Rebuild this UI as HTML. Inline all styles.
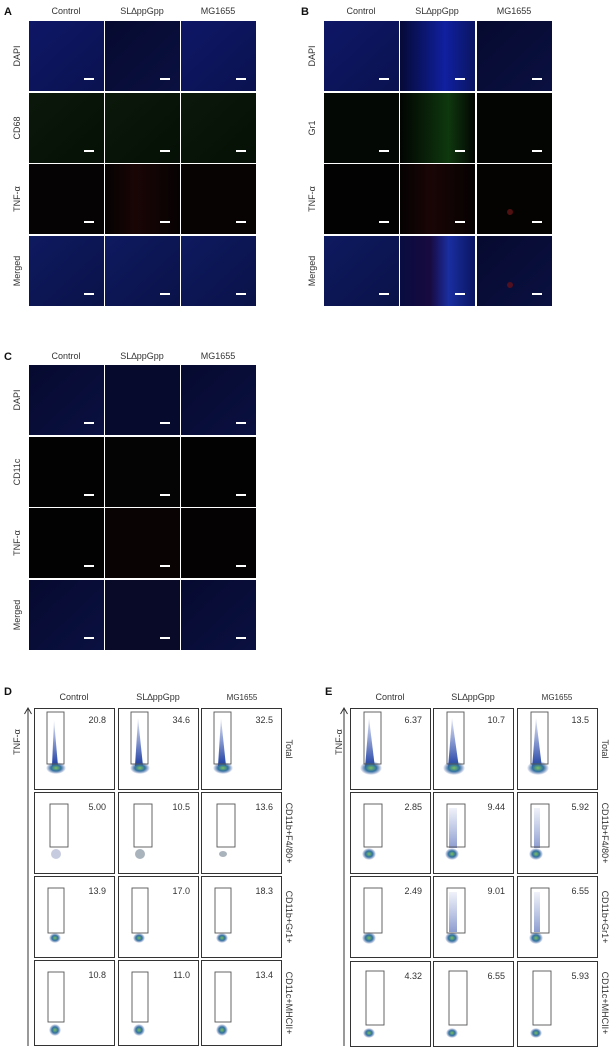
<!DOCTYPE html>
<html><head><meta charset="utf-8"><style>
html,body{margin:0;padding:0;background:#fff}
svg{display:block}
text{font-family:"Liberation Sans",Arial,sans-serif;fill:#333;font-size:9px}
.h{text-anchor:middle}
.L{font-weight:bold;font-size:11px;fill:#111}
.n{font-size:9px;text-anchor:end}
.gb{fill:none;stroke:#333;stroke-width:1}
.gt{fill:none;stroke:#555;stroke-width:0.9}
</style></head><body>
<svg width="612" height="1049" viewBox="0 0 612 1049" xmlns="http://www.w3.org/2000/svg">
<defs>
<linearGradient id="dapi" x1="0" y1="0" x2="1" y2="1"><stop offset="0" stop-color="#0e1766"/><stop offset="1" stop-color="#0a1250"/></linearGradient>
<linearGradient id="dapid" x1="0" y1="0" x2="1" y2="1"><stop offset="0" stop-color="#060a30"/><stop offset="1" stop-color="#0a1040"/></linearGradient>
<linearGradient id="dapib" x1="0" y1="0" x2="1" y2="0"><stop offset="0" stop-color="#060a35"/><stop offset="0.6" stop-color="#1020a0"/><stop offset="1" stop-color="#0a1560"/></linearGradient>
<linearGradient id="grn" x1="0" y1="0" x2="1" y2="1"><stop offset="0" stop-color="#0a180a"/><stop offset="1" stop-color="#061006"/></linearGradient>
<linearGradient id="grnb" x1="0" y1="0" x2="1" y2="0"><stop offset="0" stop-color="#020402"/><stop offset="0.65" stop-color="#0e380e"/><stop offset="1" stop-color="#020402"/></linearGradient>
<linearGradient id="red" x1="0" y1="0" x2="1" y2="0"><stop offset="0" stop-color="#050202"/><stop offset="0.4" stop-color="#1a0505"/><stop offset="1" stop-color="#060202"/></linearGradient>
<linearGradient id="mrg" x1="0" y1="0" x2="1" y2="1"><stop offset="0" stop-color="#0e1a60"/><stop offset="1" stop-color="#0a1248"/></linearGradient>
<linearGradient id="mrgb" x1="0" y1="0" x2="1" y2="0"><stop offset="0" stop-color="#080c40"/><stop offset="0.4" stop-color="#180a40"/><stop offset="0.65" stop-color="#1a2ea0"/><stop offset="1" stop-color="#0a1560"/></linearGradient>
<radialGradient id="blob"><stop offset="0" stop-color="#7ac060"/><stop offset="0.5" stop-color="#3070a0"/><stop offset="1" stop-color="#3050a0" stop-opacity="0"/></radialGradient>
<linearGradient id="tail" x1="0" y1="0" x2="0" y2="1"><stop offset="0" stop-color="#3050b0" stop-opacity="0.15"/><stop offset="1" stop-color="#1a3aa0" stop-opacity="1"/></linearGradient>
</defs>

<text x="4" y="15" class="L">A</text>
<text x="66" y="14" class="h">Control</text><text x="142" y="14" class="h">SL∆ppGpp</text><text x="218" y="14" class="h">MG1655</text>
<g>
<rect x="29" y="21" width="75" height="70" fill="url(#dapi)"/><rect x="105" y="21" width="75" height="70" fill="url(#dapid)"/><rect x="181" y="21" width="75" height="70" fill="url(#dapi)"/>
<rect x="29" y="93" width="75" height="70" fill="url(#grn)"/><rect x="105" y="93" width="75" height="70" fill="url(#grn)"/><rect x="181" y="93" width="75" height="70" fill="url(#grn)"/>
<rect x="29" y="164" width="75" height="70" fill="#050303"/><rect x="105" y="164" width="75" height="70" fill="url(#red)"/><rect x="181" y="164" width="75" height="70" fill="#070303"/>
<rect x="29" y="236" width="75" height="70" fill="url(#mrg)"/><rect x="105" y="236" width="75" height="70" fill="url(#mrg)"/><rect x="181" y="236" width="75" height="70" fill="url(#mrg)"/>
</g>
<g fill="#fff">
<rect x="84" y="78" width="10" height="2"/><rect x="160" y="78" width="10" height="2"/><rect x="236" y="78" width="10" height="2"/>
<rect x="84" y="150" width="10" height="2"/><rect x="160" y="150" width="10" height="2"/><rect x="236" y="150" width="10" height="2"/>
<rect x="84" y="221" width="10" height="2"/><rect x="160" y="221" width="10" height="2"/><rect x="236" y="221" width="10" height="2"/>
<rect x="84" y="293" width="10" height="2"/><rect x="160" y="293" width="10" height="2"/><rect x="236" y="293" width="10" height="2"/>
</g>
<text transform="translate(20,56) rotate(-90)" class="h">DAPI</text>
<text transform="translate(20,128) rotate(-90)" class="h">CD68</text>
<text transform="translate(20,199) rotate(-90)" class="h">TNF-α</text>
<text transform="translate(20,271) rotate(-90)" class="h">Merged</text>

<text x="301" y="15" class="L">B</text>
<text x="361" y="14" class="h">Control</text><text x="437" y="14" class="h">SL∆ppGpp</text><text x="514" y="14" class="h">MG1655</text>
<rect x="324" y="21" width="75" height="70" fill="url(#dapi)"/><rect x="400" y="21" width="75" height="70" fill="url(#dapib)"/><rect x="477" y="21" width="75" height="70" fill="url(#dapid)"/>
<rect x="324" y="93" width="75" height="70" fill="#040804"/><rect x="400" y="93" width="75" height="70" fill="url(#grnb)"/><rect x="477" y="93" width="75" height="70" fill="#030503"/>
<rect x="324" y="164" width="75" height="70" fill="#030202"/><rect x="400" y="164" width="75" height="70" fill="url(#red)"/><rect x="477" y="164" width="75" height="70" fill="#050202"/>
<rect x="324" y="236" width="75" height="70" fill="url(#mrg)"/><rect x="400" y="236" width="75" height="70" fill="url(#mrgb)"/><rect x="477" y="236" width="75" height="70" fill="url(#dapid)"/>
<circle cx="510" cy="212" r="3" fill="#501010"/><circle cx="510" cy="285" r="3" fill="#501020"/>
<g fill="#fff">
<rect x="379" y="78" width="10" height="2"/><rect x="455" y="78" width="10" height="2"/><rect x="532" y="78" width="10" height="2"/>
<rect x="379" y="150" width="10" height="2"/><rect x="455" y="150" width="10" height="2"/><rect x="532" y="150" width="10" height="2"/>
<rect x="379" y="221" width="10" height="2"/><rect x="455" y="221" width="10" height="2"/><rect x="532" y="221" width="10" height="2"/>
<rect x="379" y="293" width="10" height="2"/><rect x="455" y="293" width="10" height="2"/><rect x="532" y="293" width="10" height="2"/>
</g>
<text transform="translate(315,56) rotate(-90)" class="h">DAPI</text>
<text transform="translate(315,128) rotate(-90)" class="h">Gr1</text>
<text transform="translate(315,199) rotate(-90)" class="h">TNF-α</text>
<text transform="translate(315,271) rotate(-90)" class="h">Merged</text>

<text x="4" y="360" class="L">C</text>
<text x="66" y="359" class="h">Control</text><text x="142" y="359" class="h">SL∆ppGpp</text><text x="218" y="359" class="h">MG1655</text>
<rect x="29" y="365" width="75" height="70" fill="url(#dapid)"/><rect x="105" y="365" width="75" height="70" fill="#060a2c"/><rect x="181" y="365" width="75" height="70" fill="url(#dapid)"/>
<rect x="29" y="437" width="75" height="70" fill="#020202"/><rect x="105" y="437" width="75" height="70" fill="#030403"/><rect x="181" y="437" width="75" height="70" fill="#020202"/>
<rect x="29" y="508" width="75" height="70" fill="#020202"/><rect x="105" y="508" width="75" height="70" fill="#0a0303"/><rect x="181" y="508" width="75" height="70" fill="#040202"/>
<rect x="29" y="580" width="75" height="70" fill="url(#dapid)"/><rect x="105" y="580" width="75" height="70" fill="#080a28"/><rect x="181" y="580" width="75" height="70" fill="url(#dapid)"/>
<g fill="#fff">
<rect x="84" y="422" width="10" height="2"/><rect x="160" y="422" width="10" height="2"/><rect x="236" y="422" width="10" height="2"/>
<rect x="84" y="494" width="10" height="2"/><rect x="160" y="494" width="10" height="2"/><rect x="236" y="494" width="10" height="2"/>
<rect x="84" y="565" width="10" height="2"/><rect x="160" y="565" width="10" height="2"/><rect x="236" y="565" width="10" height="2"/>
<rect x="84" y="637" width="10" height="2"/><rect x="160" y="637" width="10" height="2"/><rect x="236" y="637" width="10" height="2"/>
</g>
<text transform="translate(20,400) rotate(-90)" class="h">DAPI</text>
<text transform="translate(20,472) rotate(-90)" class="h">CD11c</text>
<text transform="translate(20,543) rotate(-90)" class="h">TNF-α</text>
<text transform="translate(20,615) rotate(-90)" class="h">Merged</text>

<text x="4" y="695" class="L">D</text>
<text x="74" y="700" class="h">Control</text><text x="158" y="700" class="h">SL∆ppGpp</text><text x="242" y="700" class="h" style="font-size:8px">MG1655</text>
<text transform="translate(20,742) rotate(-90)" class="h">TNF-α</text>
<line x1="28" y1="1046" x2="28" y2="709" stroke="#333" stroke-width="1"/>
<path d="M24.5,714 L28,708 L31.5,714" fill="none" stroke="#333" stroke-width="1"/>

<text x="325" y="695" class="L">E</text>
<text x="390" y="700" class="h">Control</text><text x="473" y="700" class="h">SL∆ppGpp</text><text x="557" y="700" class="h" style="font-size:8px">MG1655</text>
<text transform="translate(342,742) rotate(-90)" class="h">TNF-α</text>
<line x1="344" y1="1046" x2="344" y2="709" stroke="#333" stroke-width="1"/>
<path d="M340.5,714 L344,708 L347.5,714" fill="none" stroke="#333" stroke-width="1"/>

<g transform="translate(34,708)"><rect class="gb" x="0.5" y="0.5" width="80" height="81"/><path d="M18,58 L20,12 L24,58 Z" fill="url(#tail)"/><ellipse cx="22" cy="60" rx="10" ry="6" fill="url(#blob)"/><rect class="gt" x="13" y="4" width="17" height="52"/><text x="72" y="15" class="n">20.8</text></g>
<g transform="translate(118,708)"><rect class="gb" x="0.5" y="0.5" width="80" height="81"/><path d="M17,58 L20,10 L25,58 Z" fill="url(#tail)"/><ellipse cx="22" cy="60" rx="10" ry="6" fill="url(#blob)"/><rect class="gt" x="13" y="4" width="17" height="52"/><text x="72" y="15" class="n">34.6</text></g>
<g transform="translate(201,708)"><rect class="gb" x="0.5" y="0.5" width="80" height="81"/><path d="M17,58 L20,10 L25,58 Z" fill="url(#tail)"/><ellipse cx="22" cy="60" rx="10" ry="6" fill="url(#blob)"/><rect class="gt" x="13" y="4" width="17" height="52"/><text x="72" y="15" class="n">32.5</text></g>
<g transform="translate(34,792)"><rect class="gb" x="0.5" y="0.5" width="80" height="81"/><ellipse cx="22" cy="62" rx="5" ry="5" fill="#9098c0" opacity="0.5"/><rect class="gt" x="16" y="12" width="18" height="43"/><text x="72" y="18" class="n">5.00</text></g>
<g transform="translate(118,792)"><rect class="gb" x="0.5" y="0.5" width="80" height="81"/><ellipse cx="22" cy="62" rx="5" ry="5" fill="#708090" opacity="0.6"/><rect class="gt" x="16" y="12" width="18" height="43"/><text x="72" y="18" class="n">10.5</text></g>
<g transform="translate(201,792)"><rect class="gb" x="0.5" y="0.5" width="80" height="81"/><ellipse cx="22" cy="62" rx="4" ry="3" fill="#708090" opacity="0.6"/><rect class="gt" x="16" y="12" width="18" height="43"/><text x="72" y="18" class="n">13.6</text></g>
<g transform="translate(34,876)"><rect class="gb" x="0.5" y="0.5" width="80" height="81"/><ellipse cx="21" cy="62" rx="6" ry="5" fill="url(#blob)"/><rect class="gt" x="14" y="12" width="16" height="45"/><text x="72" y="18" class="n">13.9</text></g>
<g transform="translate(118,876)"><rect class="gb" x="0.5" y="0.5" width="80" height="81"/><ellipse cx="21" cy="62" rx="6" ry="5" fill="url(#blob)"/><rect class="gt" x="14" y="12" width="16" height="45"/><text x="72" y="18" class="n">17.0</text></g>
<g transform="translate(201,876)"><rect class="gb" x="0.5" y="0.5" width="80" height="81"/><ellipse cx="21" cy="62" rx="6" ry="5" fill="url(#blob)"/><rect class="gt" x="14" y="12" width="16" height="45"/><text x="72" y="18" class="n">18.3</text></g>
<g transform="translate(34,960)"><rect class="gb" x="0.5" y="0.5" width="80" height="85"/><ellipse cx="21" cy="70" rx="6" ry="6" fill="url(#blob)"/><rect class="gt" x="14" y="12" width="16" height="50"/><text x="72" y="18" class="n">10.8</text></g>
<g transform="translate(118,960)"><rect class="gb" x="0.5" y="0.5" width="80" height="85"/><ellipse cx="21" cy="70" rx="6" ry="6" fill="url(#blob)"/><rect class="gt" x="14" y="12" width="16" height="50"/><text x="72" y="18" class="n">11.0</text></g>
<g transform="translate(201,960)"><rect class="gb" x="0.5" y="0.5" width="80" height="85"/><ellipse cx="21" cy="70" rx="6" ry="6" fill="url(#blob)"/><rect class="gt" x="14" y="12" width="16" height="50"/><text x="72" y="18" class="n">13.4</text></g>
<text transform="translate(286,749) rotate(90)" class="h">Total</text>
<text transform="translate(286,833) rotate(90)" class="h">CD11b+F4/80+</text>
<text transform="translate(286,917) rotate(90)" class="h">CD11b+Gr1+</text>
<text transform="translate(286,1003) rotate(90)" class="h">CD11c+MHCII+</text>

<g transform="translate(350,708)"><rect class="gb" x="0.5" y="0.5" width="80" height="81"/><path d="M15,60 L19,10 L25,60 Z" fill="url(#tail)"/><ellipse cx="21" cy="60" rx="11" ry="7" fill="url(#blob)"/><rect class="gt" x="14" y="4" width="17" height="52"/><text x="72" y="15" class="n">6.37</text></g>
<g transform="translate(433,708)"><rect class="gb" x="0.5" y="0.5" width="80" height="81"/><path d="M15,60 L19,10 L26,60 Z" fill="url(#tail)"/><ellipse cx="21" cy="60" rx="11" ry="7" fill="url(#blob)"/><rect class="gt" x="14" y="4" width="17" height="52"/><text x="72" y="15" class="n">10.7</text></g>
<g transform="translate(517,708)"><rect class="gb" x="0.5" y="0.5" width="80" height="81"/><path d="M15,60 L19,10 L25,60 Z" fill="url(#tail)"/><ellipse cx="21" cy="60" rx="11" ry="7" fill="url(#blob)"/><rect class="gt" x="14" y="4" width="17" height="52"/><text x="72" y="15" class="n">13.5</text></g>
<g transform="translate(350,792)"><rect class="gb" x="0.5" y="0.5" width="80" height="81"/><ellipse cx="19" cy="62" rx="7" ry="6" fill="url(#blob)"/><rect class="gt" x="14" y="12" width="18" height="43"/><text x="72" y="18" class="n">2.85</text></g>
<g transform="translate(433,792)"><rect class="gb" x="0.5" y="0.5" width="80" height="81"/><rect x="16" y="16" width="8" height="40" fill="url(#tail)" opacity="0.5"/><ellipse cx="19" cy="62" rx="7" ry="6" fill="url(#blob)"/><rect class="gt" x="14" y="12" width="18" height="43"/><text x="72" y="18" class="n">9.44</text></g>
<g transform="translate(517,792)"><rect class="gb" x="0.5" y="0.5" width="80" height="81"/><rect x="17" y="16" width="6" height="40" fill="url(#tail)" opacity="0.5"/><ellipse cx="19" cy="62" rx="7" ry="6" fill="url(#blob)"/><rect class="gt" x="14" y="12" width="18" height="43"/><text x="72" y="18" class="n">5.92</text></g>
<g transform="translate(350,876)"><rect class="gb" x="0.5" y="0.5" width="80" height="81"/><ellipse cx="19" cy="62" rx="7" ry="6" fill="url(#blob)"/><rect class="gt" x="14" y="12" width="18" height="45"/><text x="72" y="18" class="n">2.49</text></g>
<g transform="translate(433,876)"><rect class="gb" x="0.5" y="0.5" width="80" height="81"/><rect x="16" y="16" width="8" height="40" fill="url(#tail)" opacity="0.5"/><ellipse cx="19" cy="62" rx="7" ry="6" fill="url(#blob)"/><rect class="gt" x="14" y="12" width="18" height="45"/><text x="72" y="18" class="n">9.01</text></g>
<g transform="translate(517,876)"><rect class="gb" x="0.5" y="0.5" width="80" height="81"/><rect x="17" y="16" width="6" height="40" fill="url(#tail)" opacity="0.5"/><ellipse cx="19" cy="62" rx="7" ry="6" fill="url(#blob)"/><rect class="gt" x="14" y="12" width="18" height="45"/><text x="72" y="18" class="n">6.55</text></g>
<g transform="translate(350,961)"><rect class="gb" x="0.5" y="0.5" width="80" height="85"/><ellipse cx="19" cy="72" rx="6" ry="5" fill="url(#blob)"/><rect class="gt" x="16" y="10" width="18" height="54"/><text x="72" y="18" class="n">4.32</text></g>
<g transform="translate(433,961)"><rect class="gb" x="0.5" y="0.5" width="80" height="85"/><ellipse cx="19" cy="72" rx="6" ry="5" fill="url(#blob)"/><rect class="gt" x="16" y="10" width="18" height="54"/><text x="72" y="18" class="n">6.55</text></g>
<g transform="translate(517,961)"><rect class="gb" x="0.5" y="0.5" width="80" height="85"/><ellipse cx="19" cy="72" rx="6" ry="5" fill="url(#blob)"/><rect class="gt" x="16" y="10" width="18" height="54"/><text x="72" y="18" class="n">5.93</text></g>
<text transform="translate(602,749) rotate(90)" class="h">Total</text>
<text transform="translate(602,833) rotate(90)" class="h">CD11b+F4/80+</text>
<text transform="translate(602,917) rotate(90)" class="h">CD11b+Gr1+</text>
<text transform="translate(602,1003) rotate(90)" class="h">CD11c+MHCII+</text>
</svg>
</body></html>
